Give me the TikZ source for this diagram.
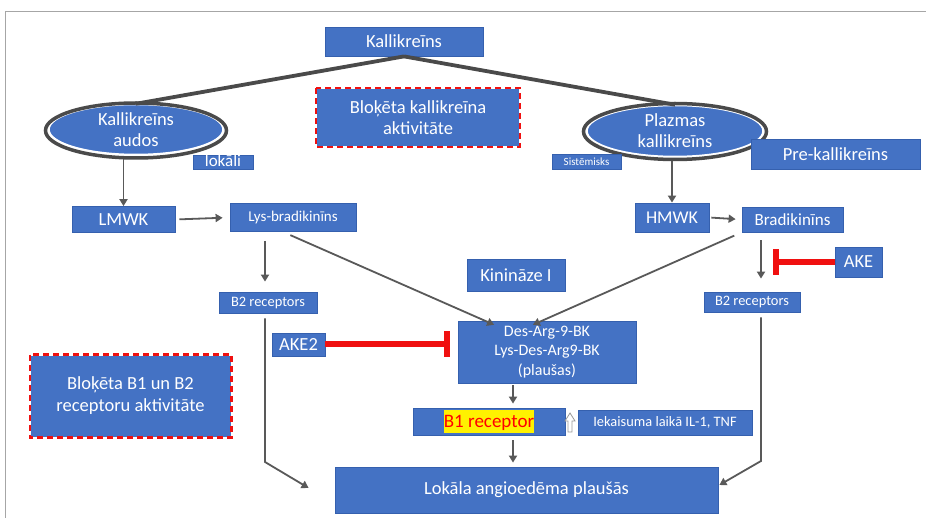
\documentclass[tikz,border=0pt]{standalone}
\usepackage{fontspec}
\setmainfont{Carlito}
\usetikzlibrary{arrows.meta,shapes.geometric,calc}
\definecolor{boxblue}{HTML}{4472C4}
\definecolor{boxedge}{HTML}{3560AE}
\definecolor{conn}{HTML}{595959}
\definecolor{ring}{HTML}{4A4A4A}
\definecolor{inhred}{HTML}{F01010}
\definecolor{framec}{HTML}{A6A6A6}
\newcommand{\fs}[2]{\fontsize{#1}{#2}\selectfont}
\begin{document}
\begin{tikzpicture}[x=1pt,y=-1pt,
  box/.style={rectangle, draw=boxedge, line width=0.8pt, fill=boxblue, text=white, inner sep=0pt, align=center},
  ell/.style={ellipse, fill=boxblue, draw=white, line width=1.5pt, inner sep=0pt},
  txt/.style={text=white, inner sep=0pt, align=center},
  arr/.style={draw=conn, line width=1.8pt, -{Triangle[length=7pt,width=8pt]}},
  thick line/.style={draw=ring, line width=3.8pt},
  inhib/.style={draw=inhred, line width=6pt, -{Bar[width=26pt,line width=6pt]}},
  redframe/.style={draw=inhred, line width=2.2pt, dash pattern=on 6pt off 4pt}
]
\path[use as bounding box] (0,0) rectangle (926,518);
\fill[white] (0,0) rectangle (926,518);
\draw[framec, line width=1pt] (5,518) -- (5,12) -- (926,12);

% nodes
\node[box, minimum width=158pt, minimum height=29pt, font=\fs{18.5}{21}] (kal) at (404,41.5) {Kallikreīns};
\node[box, draw=white, minimum width=203pt, minimum height=58pt, font=\fs{18.5}{21}] (blk1) at (418,117.5) {Bloķēta kallikreīna\\aktivitāte};
\draw[redframe] (blk1.north west) rectangle (blk1.south east);

\node[ell, minimum width=174pt, minimum height=50pt] (ell1) at (136,129.5) {};
\draw[ring, line width=3.5pt] (136,130.5) ellipse [x radius=90.5, y radius=27.5];
\node[txt, font=\fs{18.5}{21}] (ell1t) at (ell1.center) {Kallikreīns\\audos};
\node[box, minimum width=60pt, minimum height=14pt, text height=11pt, text depth=2pt, font=\fs{17}{19}] (lok1) at (223,162.5) {lokāli};

\node[ell, minimum width=176pt, minimum height=51pt] (ell2) at (675,131) {};
\draw[ring, line width=3.5pt] (675,131.5) ellipse [x radius=91.5, y radius=28];
\node[txt, font=\fs{18.5}{21}] (ell2t) at (ell2.center) {Plazmas\\kallikreīns};
\node[box, minimum width=69pt, minimum height=15pt, font=\fs{11}{13}] (sist) at (586.5,161.5) {Sistēmisks};
\node[box, minimum width=169pt, minimum height=30pt, font=\fs{18.5}{21}] (prek) at (835.5,154) {Pre-kallikreīns};

\node[box, minimum width=103pt, minimum height=26pt, font=\fs{18.5}{21}] (lmwk) at (123.5,219.5) {LMWK};
\node[box, minimum width=126pt, minimum height=28pt, font=\fs{15}{18}] (lysb) at (293,217.5) {Lys-bradikinīns};
\node[box, minimum width=74pt, minimum height=29pt, font=\fs{18}{21}] (hmwk) at (672,217.5) {HMWK};
\node[box, minimum width=101pt, minimum height=25pt, font=\fs{17}{20}] (brad) at (792.5,219.5) {Bradikinīns};

\node[box, minimum width=98pt, minimum height=21pt, font=\fs{14.4}{17}] (b2l) at (268,302.5) {B2 receptors};
\node[box, minimum width=96pt, minimum height=20pt, font=\fs{14.4}{17}] (b2r) at (752,302) {B2 receptors};
\node[box, minimum width=47pt, minimum height=30pt, font=\fs{18.5}{21}] (ake) at (858.5,262) {AKE};
\node[box, minimum width=98pt, minimum height=32pt, font=\fs{18.5}{21}] (kin) at (516,275.5) {Kinināze I};

\node[box, minimum width=178pt, minimum height=62pt, font=\fs{16}{19.5}] (des) at (547,352) {Des-Arg-9-BK\\Lys-Des-Arg9-BK\\(plaušas)};
\node[box, minimum width=53pt, minimum height=23pt, font=\fs{18.5}{21}] (ake2) at (298.5,344.5) {AKE2};

\node[box, minimum width=152pt, minimum height=27pt] (b1) at (489,421.5) {\setlength{\fboxsep}{0pt}\colorbox{yellow}{\rule[-5pt]{0pt}{22pt}\fs{19}{22}\color{red}B1 receptor}};
\node[box, minimum width=174pt, minimum height=25pt, font=\fs{14.4}{17}] (iek) at (665,422.5) {Iekaisuma laikā IL-1, TNF};
\node[box, minimum width=383pt, minimum height=46pt, font=\fs{18.5}{21}] (lok) at (526.5,490) {Lokāla angioedēma plaušās};

\node[box, draw=white, minimum width=201pt, minimum height=82pt, font=\fs{18.5}{22}] (blk2) at (130.5,396) {Bloķēta B1 un B2\\receptoru aktivitāte};
\draw[redframe] (blk2.north west) rectangle (blk2.south east);

% helper coordinates
\coordinate (mx) at (513,0);
\coordinate (rx) at (761,0);
\coordinate (lx) at (265,0);
\coordinate (akeT) at (773,262);
\coordinate (ake2T) at (450,344.5);
\coordinate (lokL) at ($(lok.west)+(-26,-2)$);
\coordinate (lokR) at ($(lok.east)+(1,-5)$);
\coordinate (yl) at (0,462);
\coordinate (yr) at (0,461);

% connectors
\draw[thick line] (kal.south) -- (ell1.north);
\draw[thick line] (kal.south) -- (ell2.north);
\draw[arr, shorten <=4pt] (ell1.south -| lmwk.north) -- (lmwk.north);
\draw[arr, shorten <=4pt] (ell2.south -| hmwk.north) -- (hmwk.north);
\draw[arr, shorten <=4pt, shorten >=7pt] (lmwk.east) -- (lysb.west);
\draw[arr, shorten <=2pt, shorten >=6pt] (hmwk.east) -- (brad.west);
\draw[arr, shorten <=9pt, shorten >=10pt] (lysb.south -| lx) -- (b2l.north -| lx);
\draw[arr, shorten <=8pt, shorten >=2pt] ([xshift=-10pt]lysb.south) -- ([xshift=-51pt,yshift=-5pt]des.north);
\draw[arr, shorten <=8pt, shorten >=2pt] (brad.south west) -- ([xshift=-16pt,yshift=-5pt]des.north);
\draw[arr, shorten <=8pt, shorten >=13pt] (brad.south -| rx) -- (b2r.north -| rx);
\draw[inhib] (ake.west) -- (akeT);
\draw[inhib] (ake2.east) -- (ake2T);
\draw[arr, shorten <=2pt, shorten >=4pt] (des.south -| mx) -- (b1.north -| mx);
\draw[arr, shorten <=5pt, shorten >=4pt] (b1.south -| mx) -- (lok.north -| mx);
\draw[arr, shorten <=5pt] (b2l.south -| lx) -- (yl -| lx) -- (lokL);
\draw[arr, shorten <=5pt] (b2r.south -| rx) -- (yr -| rx) -- (lokR);

% hollow up arrow
\draw[draw=gray!80, fill=white, line width=0.8pt] (568,432) -- (568,421) -- (565,421) -- (570,413) -- (575,421) -- (572,421) -- (572,432) -- cycle;
\end{tikzpicture}
\end{document}
